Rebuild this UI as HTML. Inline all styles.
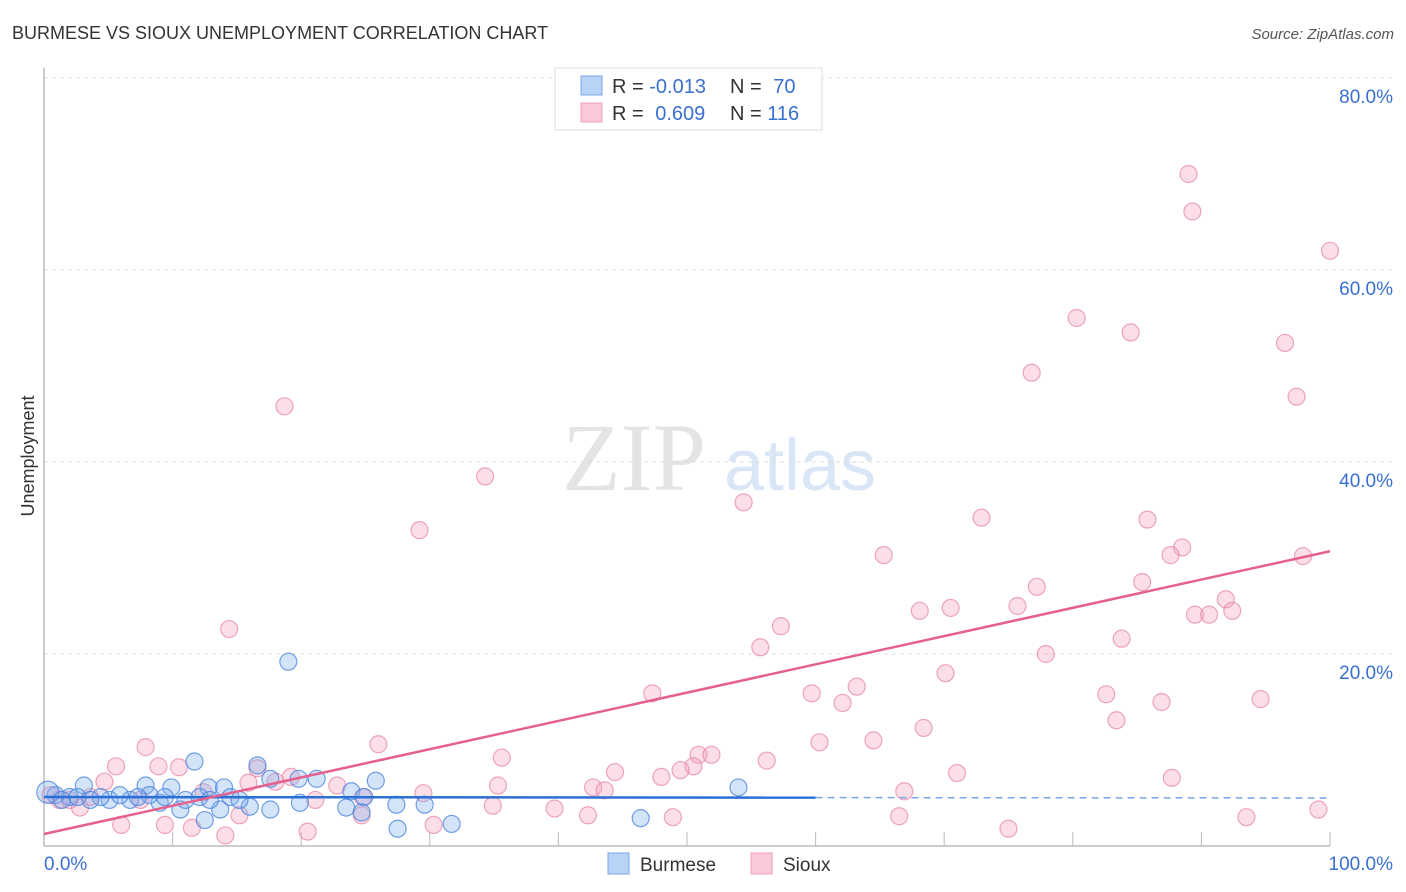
<!DOCTYPE html>
<html><head><meta charset="utf-8"><style>
body{margin:0;background:#fff;font-family:"Liberation Sans",sans-serif;}
#wrap{position:relative;width:1406px;height:892px;overflow:hidden;}
</style></head><body>
<div id="wrap">
<svg id="svg" width="1406" height="892" xmlns="http://www.w3.org/2000/svg">
<text x="12" y="39" font-size="18" fill="#333">BURMESE VS SIOUX UNEMPLOYMENT CORRELATION CHART</text>
<text x="1394" y="39" font-size="15" fill="#555" font-style="italic" text-anchor="end">Source: ZipAtlas.com</text>
<text x="634" y="490" font-size="96" fill="#e4e4e4" font-family="Liberation Serif,serif" text-anchor="middle">ZIP</text>
<text x="800" y="490" font-size="72" fill="#d8e6f6" text-anchor="middle">atlas</text>
<text x="34" y="456" font-size="18" fill="#333" text-anchor="middle" transform="rotate(-90 34 456)">Unemployment</text>
<g id="grid"></g><g id="pts"></g><g id="trend"></g>
<g>
<rect x="555" y="68" width="267" height="62" fill="#fff" stroke="#ddd"/>
<rect x="581" y="76" width="21" height="19" fill="#b8d3f5" stroke="#7aa7e8"/>
<rect x="581" y="103" width="21" height="19" fill="#fac9d8" stroke="#eea0b8"/>
<text x="612" y="93" font-size="20" fill="#333">R = <tspan fill="#3a70d0">-0.013</tspan></text>
<text x="730" y="93" font-size="20" fill="#333">N = <tspan fill="#3a70d0" dx="6">70</tspan></text>
<text x="612" y="120" font-size="20" fill="#333">R = <tspan fill="#3a70d0" dx="6">0.609</tspan></text>
<text x="730" y="120" font-size="20" fill="#333">N = <tspan fill="#3a70d0">116</tspan></text>
</g>
<g>
<rect x="608" y="853" width="21" height="21" fill="#b8d3f5" stroke="#7aa7e8"/>
<text x="640" y="871" font-size="19" fill="#333">Burmese</text>
<rect x="751" y="853" width="21" height="21" fill="#fac9d8" stroke="#eea0b8"/>
<text x="783" y="871" font-size="19" fill="#333">Sioux</text>
</g>
</svg></div>
<script>
const yTicks=[20,40,60,80];
const yTickLabels=["20.0%","40.0%","60.0%","80.0%"];
const xTickVals=[0,10,20,30,40,50,60,70,80,90,100];
const blueX=[19.0,11.7,16.6,17.6,3.1,7.9,9.9,12.8,14.0,21.2,25.8,19.8,23.9,24.9,19.9,23.5,24.7,27.4,29.6,27.5,31.7,46.4,54.0,17.6,16.0,13.7,10.6,9.0,6.7,5.1,4.4,2.0,0.9,0.3,5.9,8.2,9.4,12.1,14.5,15.2,11.0,12.5,12.9,3.6,1.4,2.6,7.3];
const blueY=[19.2,8.8,8.4,7.0,6.3,6.3,6.1,6.1,6.1,7.0,6.8,7.0,5.7,5.1,4.5,4.0,3.5,4.3,4.3,1.8,2.3,2.9,6.1,3.8,4.1,3.8,3.8,4.5,4.8,4.8,5.1,5.1,5.3,5.6,5.3,5.3,5.1,5.1,5.1,4.8,4.8,2.7,4.8,4.8,4.8,5.1,5.1];
const pinkX=[18.7,34.3,29.2,14.4,54.4,65.3,72.9,80.3,76.8,84.5,89.0,89.3,100,96.5,97.4,85.8,88.5,87.6,97.9,85.4,77.2,75.7,68.1,70.5,91.9,89.5,90.6,92.4,57.3,55.7,77.9,83.8,70.1,63.2,59.7,62.1,47.3,82.6,86.9,94.6,83.4,68.4,64.5,60.3,26.0,7.9,50.9,51.9,35.6,56.2,50.5,49.5,44.4,48.0,71.0,87.7,5.6,8.9,10.5,19.2,4.7,42.7,43.6,35.3,16.6,15.9,12.4,66.9,29.5,24.8,22.8,18.0,39.7,34.9,42.3,48.9,66.5,93.5,99.1,75.0,30.3,20.5,6.0,9.4,11.5,14.1,2.8,1.2,3.6,7.5,21.1,15.2,24.7,0.5,2.0];
const pinkY=[45.8,38.5,32.9,22.6,35.8,30.3,34.2,55.0,49.3,53.5,70.0,66.1,62.0,52.4,46.8,34.0,31.1,30.3,30.2,27.5,27.0,25.0,24.5,24.8,25.7,24.1,24.1,24.5,22.9,20.7,20.0,21.6,18.0,16.6,15.9,14.9,15.9,15.8,15.0,15.3,13.1,12.3,11.0,10.8,10.6,10.3,9.5,9.5,9.2,8.9,8.3,7.9,7.7,7.2,7.6,7.1,8.3,8.3,8.2,7.2,6.7,6.1,5.8,6.3,8.1,6.6,5.6,5.7,5.5,5.1,6.3,6.7,3.9,4.2,3.2,3.0,3.1,3.0,3.8,1.8,2.2,1.5,2.2,2.2,1.9,1.1,4.0,4.8,5.1,4.8,4.8,3.2,3.2,5.3,4.8];
const blueTrend=[5.1,5.0];
const pinkTrend=[1.25,30.7];
const NS="http://www.w3.org/2000/svg";
const sx=v=>44+v*12.86, sy=v=>846-v*9.6;
function mk(tag,attrs,parent){const e=document.createElementNS(NS,tag);for(const k in attrs)e.setAttribute(k,attrs[k]);parent.appendChild(e);return e;}
const grid=document.getElementById('grid'),pts=document.getElementById('pts'),tr=document.getElementById('trend'),svg=document.getElementById('svg');
yTicks.forEach((t,i)=>{
 const l=mk('line',{x1:44,x2:1394,y1:sy(t),y2:sy(t),stroke:'#ddd','stroke-dasharray':'4,4'},grid);
 
 
 const tx=mk('text',{x:1393,y:sy(t)+25,'font-size':19,fill:'#3a70d0','text-anchor':'end'},svg);
 tx.textContent=yTickLabels[i];
 
 
});
const ax=mk('line',{x1:44,x2:44,y1:68,y2:846,stroke:'#bbb','stroke-width':1.5},grid);


const bx=mk('line',{x1:44,x2:1330,y1:846,y2:846,stroke:'#bbb','stroke-width':1.5},grid);


xTickVals.forEach(v=>{const t=mk('line',{x1:sx(v),x2:sx(v),y1:832,y2:846,stroke:'#bbb'},grid);
 
 });
const x0=mk('text',{x:44,y:870,'font-size':19,fill:'#3a70d0'},svg);x0.textContent='0.0%';


const x1=mk('text',{x:1393,y:870,'font-size':19,fill:'#3a70d0','text-anchor':'end'},svg);x1.textContent='100.0%';


pinkX.forEach((x,i)=>{const c=mk('circle',{cx:sx(x),cy:sy(pinkY[i]),r:8.5,fill:'rgba(244,160,188,0.35)',stroke:'rgba(230,130,165,0.7)','stroke-width':1.2},pts);
 
 });
blueX.forEach((x,i)=>{const c=mk('circle',{cx:sx(x),cy:sy(blueY[i]),r:i==33?11:8.5,fill:'rgba(130,175,235,0.35)',stroke:'rgba(70,130,220,0.75)','stroke-width':1.2},pts);
 
 });
const by=v=>blueTrend[0]+(blueTrend[1]-blueTrend[0])*v/100;
const b1=mk('line',{x1:sx(0),y1:sy(by(0)),x2:sx(60),y2:sy(by(60)),stroke:'#2a6fd6','stroke-width':2.5},tr);


const b2=mk('line',{x1:sx(60),y1:sy(by(60)),x2:sx(100),y2:sy(by(100)),stroke:'#7aa7e8','stroke-width':1.5,'stroke-dasharray':'7,5'},tr);


const p=mk('line',{x1:sx(0),y1:sy(pinkTrend[0]),x2:sx(100),y2:sy(pinkTrend[1]),stroke:'#e5608c','stroke-width':2.5},tr);


</script>
</body></html>
